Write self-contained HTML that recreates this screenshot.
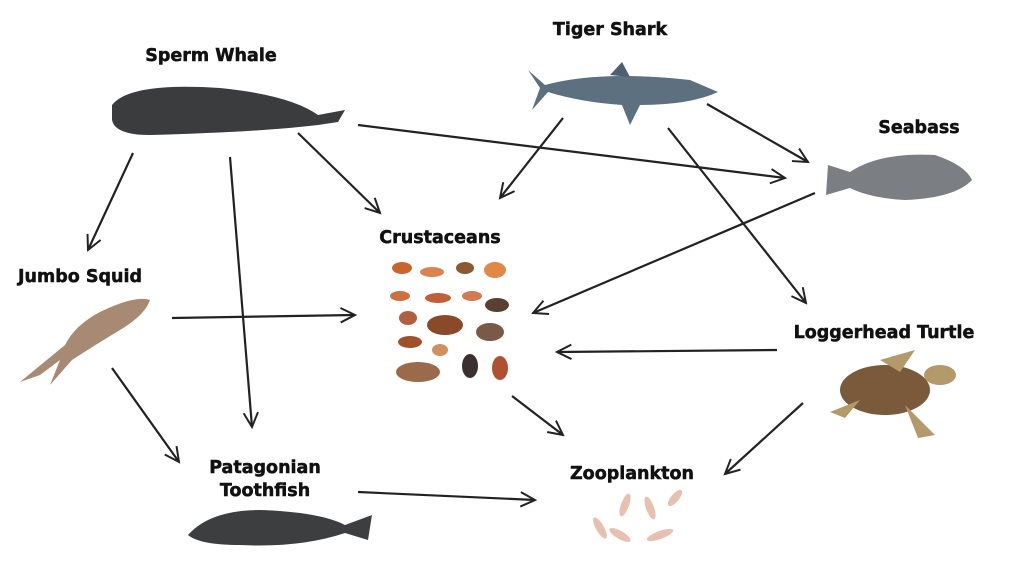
<!DOCTYPE html>
<html><head><meta charset="utf-8"><style>
html,body{margin:0;padding:0;background:#fff;width:1024px;height:585px;overflow:hidden}
svg{display:block}
text{font-family:"DejaVu Sans","Liberation Sans",sans-serif;font-weight:bold;font-size:17.5px;fill:#111;stroke:#111;stroke-width:0.5;text-anchor:middle}
</style></head><body>
<svg width="1024" height="585" viewBox="0 0 1024 585" xmlns="http://www.w3.org/2000/svg">
<defs>
<marker id="a" viewBox="0 0 20 20" refX="18" refY="10" markerWidth="18" markerHeight="18" markerUnits="userSpaceOnUse" orient="auto">
<path d="M2,2 L18,10 L2,18" fill="none" stroke="#222" stroke-width="2.2"/>
</marker>
</defs>
<g stroke="#222" stroke-width="2.2" fill="none" marker-end="url(#a)">
<line x1="133" y1="153" x2="88" y2="250"/>
<line x1="230" y1="157" x2="252" y2="427"/>
<line x1="298" y1="133" x2="380" y2="213"/>
<line x1="358" y1="125" x2="785" y2="178"/>
<line x1="563" y1="118" x2="500" y2="198"/>
<line x1="707" y1="104" x2="808" y2="162"/>
<line x1="668" y1="128" x2="806" y2="303"/>
<line x1="815" y1="193" x2="533" y2="313"/>
<line x1="172" y1="318" x2="355" y2="315"/>
<line x1="777" y1="350" x2="557" y2="352"/>
<line x1="112" y1="368" x2="179" y2="462"/>
<line x1="512" y1="396" x2="563" y2="435"/>
<line x1="803" y1="403" x2="725" y2="474"/>
<line x1="358" y1="492" x2="535" y2="500"/>
</g>
<path d="M112,105 Q130,82 220,88 Q290,95 318,115 L345,110 L338,122 L318,125 Q260,132 150,135 Q115,135 112,120 Z" fill="#3a3c3e"/>
<path d="M528,70 L545,85 Q600,70 690,80 L718,92 Q690,105 640,105 L630,125 L622,105 Q580,102 548,92 L532,110 L540,88 Z" fill="#5d7080"/>
<path d="M610,75 L622,62 L630,77 Z" fill="#4d6070"/>
<path d="M828,165 L850,172 Q880,152 935,155 Q965,165 972,180 Q955,198 905,200 Q870,198 850,188 L826,195 Z" fill="#7b7f83"/>
<path d="M150,300 Q135,295 100,312 Q75,325 65,345 L20,382 L40,375 L60,360 L50,385 L72,360 Q95,345 120,330 Q145,315 150,300 Z" fill="#a88a74"/>
<g>
<ellipse cx="402" cy="268" rx="10" ry="6" fill="#c8642e"/>
<ellipse cx="432" cy="272" rx="12" ry="5" fill="#d9844e"/>
<ellipse cx="465" cy="268" rx="9" ry="6" fill="#8a5a30"/>
<ellipse cx="495" cy="270" rx="11" ry="8" fill="#e08848"/>
<ellipse cx="400" cy="296" rx="10" ry="5" fill="#cf7040"/>
<ellipse cx="438" cy="298" rx="13" ry="5" fill="#c0603a"/>
<ellipse cx="472" cy="296" rx="10" ry="5" fill="#d27a50"/>
<ellipse cx="497" cy="305" rx="12" ry="7" fill="#5a4030"/>
<ellipse cx="408" cy="318" rx="9" ry="7" fill="#b06040"/>
<ellipse cx="445" cy="325" rx="18" ry="10" fill="#8a4a2a"/>
<ellipse cx="490" cy="332" rx="14" ry="9" fill="#7a5a44"/>
<ellipse cx="410" cy="342" rx="12" ry="6" fill="#a0502a"/>
<ellipse cx="418" cy="372" rx="22" ry="10" fill="#9a6a4a"/>
<ellipse cx="470" cy="366" rx="8" ry="12" fill="#3a3030"/>
<ellipse cx="500" cy="368" rx="8" ry="12" fill="#b05030"/>
<ellipse cx="440" cy="350" rx="8" ry="6" fill="#d09060"/>
</g>
<ellipse cx="885" cy="390" rx="45" ry="25" fill="#7a5a3a"/>
<ellipse cx="940" cy="375" rx="16" ry="10" fill="#b49a6a"/>
<path d="M860,400 L830,412 L845,418 Z M905,405 L935,435 L918,438 Z M880,360 L915,350 L900,372 Z" fill="#b49a6a"/>
<path d="M188,535 Q210,510 260,510 Q320,512 345,525 L372,515 L368,540 L345,533 Q300,548 240,545 Q200,545 188,535 Z" fill="#3c3e40"/>
<g fill="#e8c0b0">
<ellipse cx="600" cy="528" rx="4" ry="12" transform="rotate(-30 600 528)"/>
<ellipse cx="625" cy="505" rx="4" ry="12" transform="rotate(20 625 505)"/>
<ellipse cx="650" cy="508" rx="4" ry="12" transform="rotate(-20 650 508)"/>
<ellipse cx="675" cy="498" rx="4" ry="10" transform="rotate(40 675 498)"/>
<ellipse cx="620" cy="535" rx="4" ry="12" transform="rotate(-60 620 535)"/>
<ellipse cx="660" cy="535" rx="4" ry="14" transform="rotate(70 660 535)"/>
</g>
<text x="211" y="61">Sperm Whale</text>
<text x="610" y="35">Tiger Shark</text>
<text x="919" y="133">Seabass</text>
<text x="440" y="243">Crustaceans</text>
<text x="80" y="282">Jumbo Squid</text>
<text x="884" y="338">Loggerhead Turtle</text>
<text x="265" y="473">Patagonian</text>
<text x="265" y="496">Toothfish</text>
<text x="632" y="479">Zooplankton</text>
</svg>
</body></html>
